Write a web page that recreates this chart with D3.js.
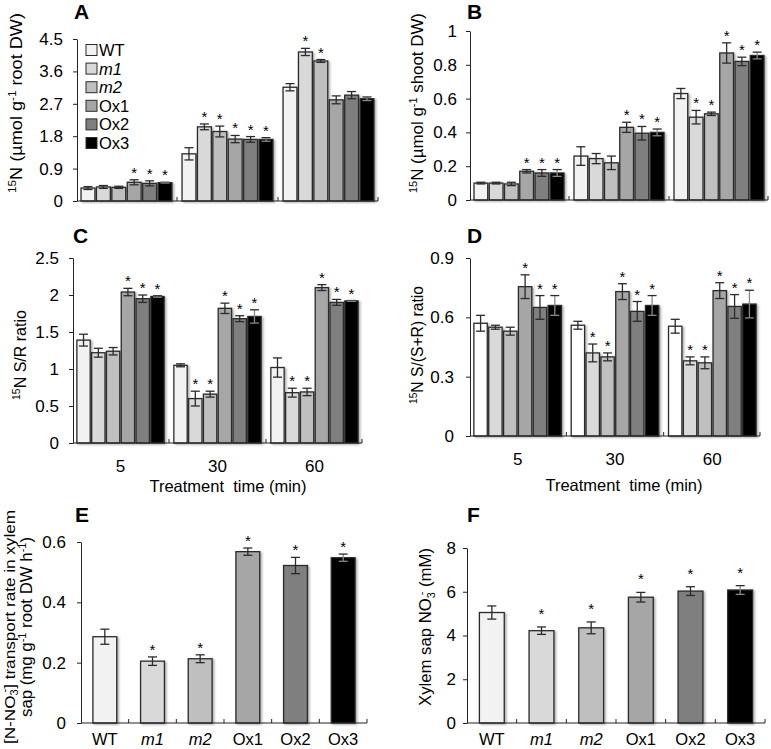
<!DOCTYPE html>
<html><head><meta charset="utf-8">
<script src="https://cdn.jsdelivr.net/npm/d3@7"></script>
<style>body{margin:0;background:#fff} svg{display:block} text{font-family:"Liberation Sans",Arial,sans-serif;fill:#000}</style>
</head><body><svg id="c" width="771" height="749"></svg>
<script>
const genotypes = ["WT","m1","m2","Ox1","Ox2","Ox3"];
const genoItalic = [false,true,true,false,false,false];
const times = ["5","30","60"];
// A: 15N root
const rootMean = [[0.36,0.39,0.38,0.52,0.49,0.51],[1.31,2.06,1.93,1.72,1.71,1.71],[3.16,4.14,3.89,2.81,2.94,2.84]];
const rootErr  = [[0.04,0.04,0.03,0.07,0.07,0.01],[0.17,0.08,0.15,0.10,0.08,0.05],[0.10,0.10,0.04,0.11,0.10,0.05]];
const rootSig  = [[0,0,0,1,1,1],[0,1,1,1,1,1],[0,1,1,0,0,0]];
const rootTicks = [0,0.9,1.8,2.7,3.6,4.5];
// B: 15N shoot
const shootMean = [[0.10,0.10,0.095,0.17,0.16,0.16],[0.26,0.245,0.22,0.43,0.395,0.40],[0.63,0.49,0.51,0.87,0.82,0.855]];
const shootErr  = [[0.005,0.005,0.01,0.01,0.02,0.02],[0.055,0.03,0.04,0.03,0.04,0.02],[0.03,0.04,0.01,0.06,0.025,0.02]];
const shootSig  = [[0,0,0,1,1,1],[0,0,0,1,1,1],[0,1,1,1,1,1]];
const shootTicks = [0,0.2,0.4,0.6,0.8,1];
// C: S/R ratio
const srMean = [[1.39,1.22,1.24,2.04,1.95,1.98],[1.05,0.60,0.66,1.82,1.68,1.71],[1.02,0.68,0.69,2.10,1.90,1.92]];
const srErr  = [[0.08,0.06,0.05,0.05,0.05,0.01],[0.02,0.10,0.04,0.07,0.04,0.09],[0.13,0.06,0.05,0.04,0.04,0.005]];
const srSig  = [[0,0,0,1,1,1],[0,1,1,1,1,1],[0,1,1,1,1,1]];
const srTicks = [0,0.5,1,1.5,2,2.5];
// D: S/(S+R) ratio
const ssrMean = [[0.57,0.55,0.53,0.755,0.65,0.66],[0.56,0.42,0.40,0.73,0.63,0.66],[0.555,0.38,0.37,0.735,0.655,0.667]];
const ssrErr  = [[0.04,0.01,0.02,0.06,0.06,0.05],[0.02,0.045,0.02,0.04,0.05,0.05],[0.035,0.02,0.03,0.04,0.06,0.07]];
const ssrSig  = [[0,0,0,1,1,1],[0,1,1,1,1,1],[0,1,1,1,1,1]];
const ssrTicks = [0,0.3,0.6,0.9];
// E: transport rate
const transMean = [0.286,0.205,0.213,0.568,0.522,0.548];
const transErr  = [0.025,0.014,0.013,0.012,0.027,0.012];
const transSig  = [0,1,1,1,1,1];
const transTicks = [0,0.2,0.4,0.6];
// F: xylem sap nitrate
const sapMean = [5.05,4.22,4.35,5.75,6.03,6.08];
const sapErr  = [0.30,0.17,0.27,0.22,0.20,0.20];
const sapSig  = [0,1,1,1,1,1];
const sapTicks = [0,2,4,6,8];

const fills = ["#f2f2f2","#d9d9d9","#bfbfbf","#a6a6a6","#7f7f7f","#000000"];
const fillsD = ["#ffffff","#d9d9d9","#bfbfbf","#a6a6a6","#7f7f7f","#000000"];
const ink = "#2b2b2b";
const svg = d3.select("#c");

svg.append("defs").append("filter").attr("id","sh").attr("x","-20%").attr("y","-20%").attr("width","160%").attr("height","140%")
  .append("feDropShadow").attr("dx",1.5).attr("dy",1).attr("stdDeviation",0.8).attr("flood-color","#000").attr("flood-opacity",0.35);

function rich(t, segs, fs) {
  let prev = 0;
  segs.forEach(([str, kind, dx]) => {
    const shift = kind === "sup" ? -0.4*fs : kind === "sub" ? 0.25*fs : 0;
    const ts = t.append("tspan").text(str).attr("dy", (shift - prev).toFixed(2));
    if (dx) ts.attr("dx", dx);
    if (kind === "sup" || kind === "sub") ts.attr("font-size", (fs*0.65).toFixed(1));
    if (kind === "it") ts.attr("font-style", "italic");
    prev = shift;
  });
}
function yTitle(x, y, segs, fs, len) {
  const t = svg.append("text").attr("transform", `translate(${x},${y}) rotate(-90)`)
    .attr("text-anchor","middle").attr("font-size", fs).attr("xml:space","preserve").style("white-space","pre");
  if (len) t.attr("textLength", len).attr("lengthAdjust", "spacingAndGlyphs");
  rich(t, segs, fs);
}
function letter(x, y, s) {
  svg.append("text").attr("x", x).attr("y", y).attr("font-size", 21).attr("font-weight","bold").text(s);
}
function yAxis(y, x0, ticks, pad) {
  svg.append("g").attr("transform", `translate(${x0},0)`)
    .call(d3.axisLeft(y).tickValues(ticks).tickSize(4).tickSizeOuter(0).tickPadding(pad).tickFormat(d => String(d)))
    .call(s => s.selectAll("text").attr("font-size", 17).attr("font-family", null))
    .call(s => s.selectAll("line,path").attr("stroke", "#222"));
}
function xBase(x0, x1, yb, tickXs) {
  svg.append("line").attr("x1", x0).attr("x2", x1).attr("y1", yb).attr("y2", yb).attr("stroke", "#222");
  svg.append("g").selectAll("line").data(tickXs).join("line")
    .attr("x1", d => d).attr("x2", d => d).attr("y1", yb).attr("y2", yb - 4).attr("stroke", "#222");
}
function drawBars(rows, xf, bw, y, fillArr, starOff) {
  const g = svg.append("g");
  g.selectAll("rect").data(rows).join("rect")
    .attr("x", xf).attr("y", d => y(d.m)).attr("width", bw).attr("height", d => y(0) - y(d.m))
    .attr("fill", d => fillArr[d.k]).attr("stroke", ink).attr("stroke-width", 1.3).attr("filter","url(#sh)");
  const cx = d => xf(d) + bw/2;
  const cw = Math.min(9, bw*0.7)/2;
  const e = svg.append("g").attr("stroke", ink).attr("stroke-width", 1.3);
  e.selectAll("line.v").data(rows).join("line").attr("class","v")
    .attr("x1", cx).attr("x2", cx).attr("y1", d => y(d.m + d.e)).attr("y2", d => y(d.m - d.e))
    .attr("stroke", d => d.k === 5 ? "#888" : ink);
  ["+","-"].forEach(sg => {
    e.selectAll("line.c" + (sg === "+" ? "p" : "m")).data(rows).join("line").attr("class", "c" + (sg === "+" ? "p" : "m"))
      .attr("x1", d => cx(d) - cw).attr("x2", d => cx(d) + cw)
      .attr("y1", d => y(sg === "+" ? d.m + d.e : d.m - d.e)).attr("y2", d => y(sg === "+" ? d.m + d.e : d.m - d.e))
      .attr("stroke", d => (d.k === 5 && sg === "-") ? "#888" : ink);
  });
  svg.append("g").selectAll("text").data(rows.filter(d => d.s)).join("text")
    .attr("x", cx).attr("y", d => y(d.m + d.e) - starOff).attr("text-anchor","middle").attr("font-size", 15).text("*");
}
function grouped(o) {
  const y = d3.scaleLinear().domain([0, o.ticks[o.ticks.length - 1]]).range([o.yb, o.yt]);
  const x = d3.scaleBand().domain(times).range([o.x0, o.x1]).paddingInner(0.1).paddingOuter(0.04);
  const xi = d3.scaleBand().domain(genotypes).range([0, x.bandwidth()]).paddingInner(0.1);
  const rows = [];
  times.forEach((t, ti) => genotypes.forEach((gen, k) =>
    rows.push({t, gen, k, m: o.mean[ti][k], e: o.err[ti][k], s: o.sig[ti][k]})));
  drawBars(rows, d => x(d.t) + xi(d.gen), xi.bandwidth(), y, o.fills, 2);
  const seps = times.slice(0, -1).map(t => x(t) + x.bandwidth() + x.step()*x.paddingInner()/2).concat([o.x1]);
  xBase(o.x0, o.x1, o.yb, seps);
  yAxis(y, o.x0, o.ticks, o.pad);
  if (o.labels) {
    svg.append("g").selectAll("text").data(times).join("text")
      .attr("x", t => x(t) + x.bandwidth()/2).attr("y", o.yb + 29).attr("text-anchor","middle").attr("font-size", 17).text(t => t);
    svg.append("text").attr("x", o.titleX).attr("y", o.titleY).attr("text-anchor","middle").attr("font-size", 16.5)
      .attr("xml:space","preserve").style("white-space","pre").text("Treatment  time (min)");
  }
}
function single(o) {
  const y = d3.scaleLinear().domain([0, o.ticks[o.ticks.length - 1]]).range([o.yb, o.yt]);
  const x = d3.scaleBand().domain(genotypes).range([o.x0, o.x1]).paddingInner(0.5).paddingOuter(0.25);
  const rows = genotypes.map((gen, k) => ({gen, k, m: o.mean[k], e: o.err[k], s: o.sig[k]}));
  drawBars(rows, d => x(d.gen), x.bandwidth(), y, fills, o.starOff);
  const seps = genotypes.map((g, i) => o.x0 + x.step()*(i + 1));
  xBase(o.x0, o.x1, o.yb, seps);
  yAxis(y, o.x0, o.ticks, o.pad);
  svg.append("g").selectAll("text").data(genotypes).join("text")
    .attr("x", g => x(g) + x.bandwidth()/2).attr("y", o.yb + 22).attr("text-anchor","middle").attr("font-size", 16.5)
    .attr("font-style", (g, i) => genoItalic[i] ? "italic" : null).text(g => g);
}

// Panels
grouped({mean: rootMean, err: rootErr, sig: rootSig, ticks: rootTicks, x0: 77, x1: 378, yb: 201, yt: 39, pad: 10, fills});
grouped({mean: shootMean, err: shootErr, sig: shootSig, ticks: shootTicks, x0: 470, x1: 768, yb: 200, yt: 31, pad: 9, fills});
grouped({mean: srMean, err: srErr, sig: srSig, ticks: srTicks, x0: 73, x1: 362, yb: 443, yt: 258, pad: 10, fills, labels: true, titleX: 228, titleY: 492});
grouped({mean: ssrMean, err: ssrErr, sig: ssrSig, ticks: ssrTicks, x0: 470, x1: 760, yb: 436, yt: 258, pad: 12, fills: fillsD, labels: true, titleX: 624, titleY: 491});
single({mean: transMean, err: transErr, sig: transSig, ticks: transTicks, x0: 81, x1: 367, yb: 723, yt: 542, pad: 11, starOff: 2});
single({mean: sapMean, err: sapErr, sig: sapSig, ticks: sapTicks, x0: 467, x1: 765, yb: 723, yt: 548, pad: 7, starOff: 8});

// Legend (panel A)
const leg = svg.append("g").selectAll("g").data(genotypes).join("g")
  .attr("transform", (d, i) => `translate(86,${50 + i*18.6})`);
leg.append("rect").attr("x", 0).attr("y", -5.5).attr("width", 11).attr("height", 11)
  .attr("fill", (d, i) => fills[i]).attr("stroke", ink).attr("stroke-width", 1);
leg.append("text").attr("x", 13).attr("y", 6).attr("font-size", 16.5)
  .attr("font-style", (d, i) => genoItalic[i] ? "italic" : null).text(d => d);

// Letters
letter(74, 19, "A"); letter(467, 19, "B"); letter(73, 243, "C"); letter(467, 243, "D"); letter(75, 522, "E"); letter(467, 522, "F");

// Axis titles
yTitle(22, 103, [["15","sup"],["N (µmol g"],["-1","sup"],[" root DW)"]], 16, 180);
yTitle(423, 103, [["15","sup"],["N (µmol g"],["-1","sup"],[" shoot DW)"]], 16, 180);
yTitle(26, 355, [["15","sup"],["N S/R ratio"]], 16);
yTitle(423, 345, [["15","sup"],["N S/(S+R) ratio"]], 16, 118);
yTitle(14.5, 627, [["[N-NO"],["3","sub"],["-","sup",-3],["] transport rate in xylem"]], 15.5, 234);
yTitle(32, 627, [["sap (mg g"],["-1","sup"],[" root DW h"],["-1","sup"],[")"]], 16, 180);
yTitle(431, 627, [["Xylem sap NO"],["3","sub"],["-","sup",-3],[" (mM)"]], 16, 158);
</script></body></html>
